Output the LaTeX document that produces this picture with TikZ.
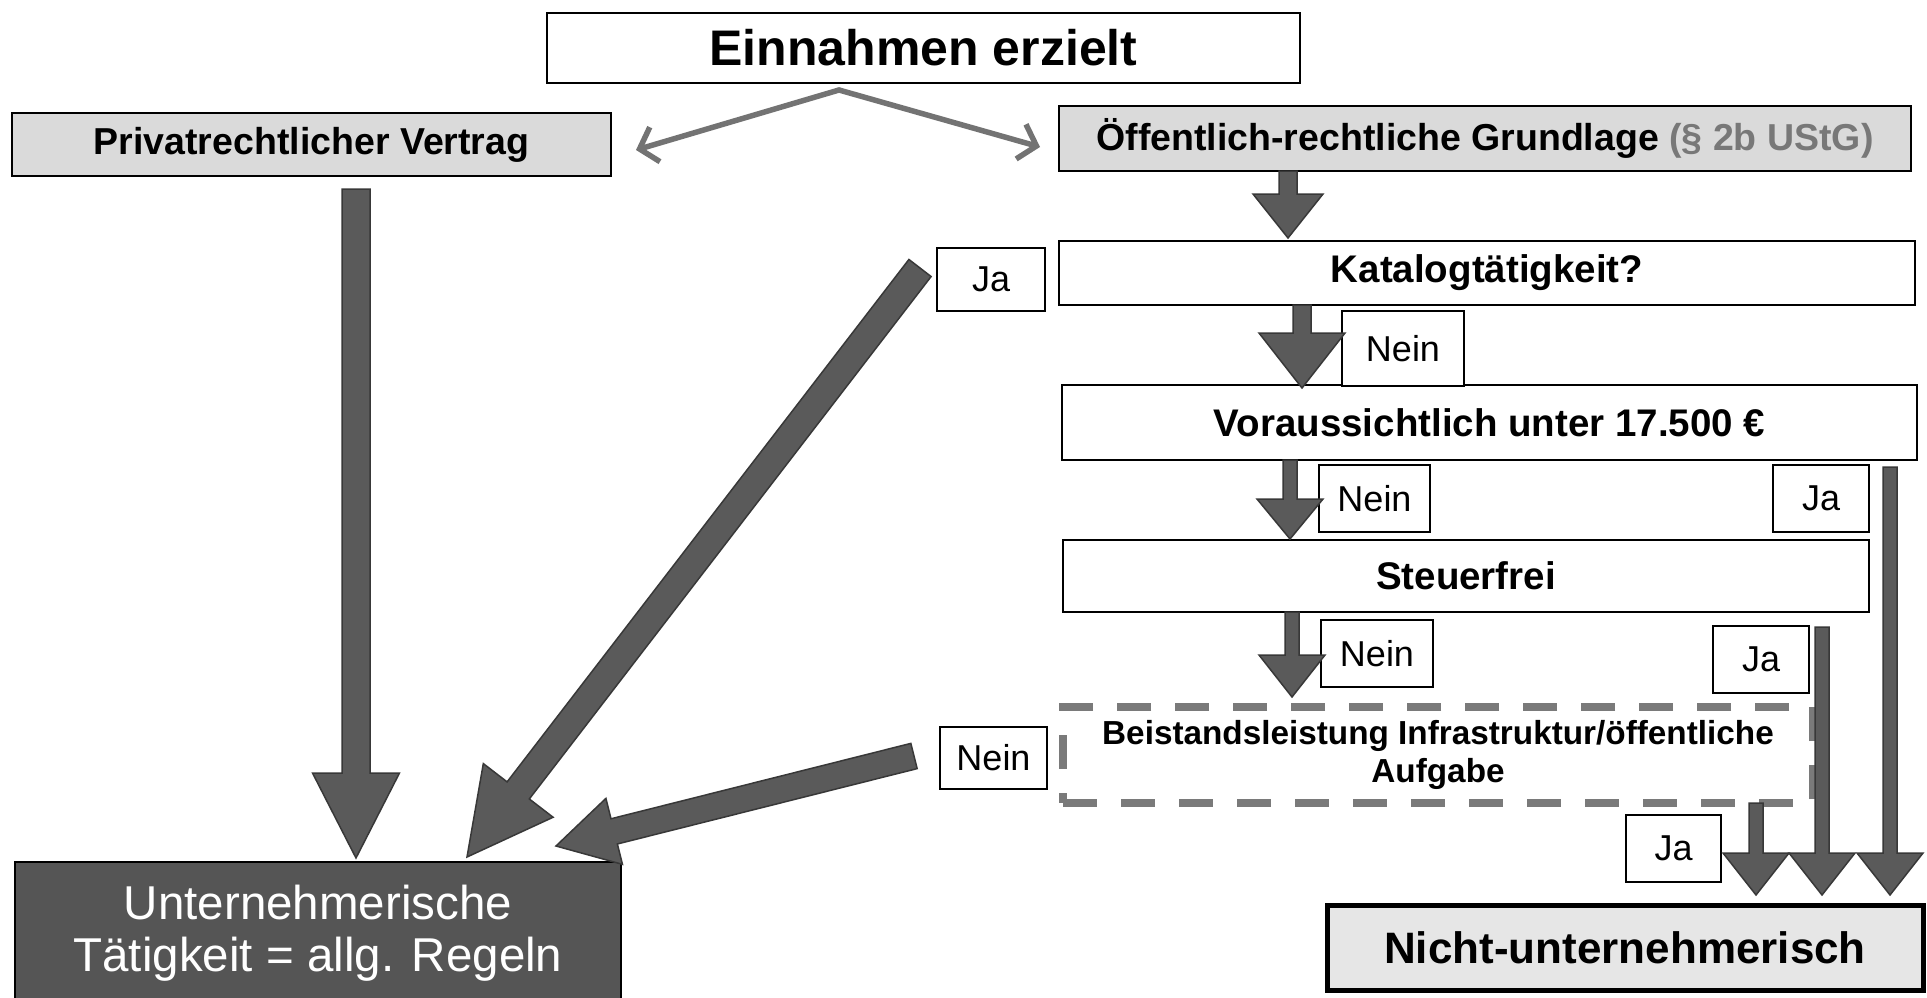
\documentclass[tikz,border=0pt]{standalone}
\usepackage{fontspec}
\setmainfont{Liberation Sans}
\usetikzlibrary{calc,arrows.meta}
\definecolor{arrfill}{HTML}{5A5A5A}
\definecolor{arrdraw}{HTML}{383838}
\definecolor{boxgray}{HTML}{DADADA}
\definecolor{lightgray2}{HTML}{E6E6E6}
\definecolor{darkbox}{HTML}{555555}
\definecolor{thinarr}{HTML}{737373}
\definecolor{dashgray}{HTML}{7A7A7A}
\definecolor{paragray}{HTML}{787878}
\newcommand\FatArrow[5]{%
  \coordinate (fa-base) at ($(#2)!#5!(#1)$);
  \filldraw[fatarrow] ($(#1)!#3!90:(#2)$) -- ($(fa-base)!#3!90:(#2)$) -- ($(fa-base)!#4!90:(#2)$) -- (#2) -- ($(fa-base)!#4!-90:(#2)$) -- ($(fa-base)!#3!-90:(#2)$) -- ($(#1)!#3!-90:(#2)$) -- cycle;
}
\begin{document}
\begin{tikzpicture}[x=1pt,y=-1pt,
  box/.style={draw=black, line width=2.5pt, fill=white, inner sep=0pt, align=center,
    font=\fontsize{38.5}{44}\selectfont\bfseries},
  graybox/.style={box, fill=boxgray},
  lab/.style={draw=black, line width=1.5pt, fill=white, inner sep=0pt,
    font=\fontsize{36}{40}\selectfont},
  fatarrow/.style={fill=arrfill, draw=arrdraw, line width=1.5pt, line join=miter},
  thinarrow/.style={draw=thinarr, line width=5.5pt, line cap=round,
    -{Straight Barb[length=16pt,width=36pt,line width=5.5pt]}}
]
\fill[white] (0,0) rectangle (1927,998);
\useasboundingbox (0,0) rectangle (1927,998);

% main boxes
\node[box, minimum width=753pt, minimum height=70pt, font=\fontsize{50}{56}\selectfont\bfseries]
  (ein) at (923.5,48) {Einnahmen erzielt};
\node[graybox, minimum width=599pt, minimum height=63pt, font=\fontsize{37.5}{44}\selectfont\bfseries]
  (priv) at (311.5,144.5) {Privatrechtlicher Vertrag};
\node[graybox, minimum width=852pt, minimum height=65pt, font=\fontsize{37.5}{44}\selectfont\bfseries]
  (oeff) at (1485,138.5) {Öffentlich-rechtliche Grundlage \textcolor{paragray}{(§ 2b UStG)}};
\node[box, minimum width=856pt, minimum height=64pt] (kat) at (1487,273) {Katalogtätigkeit?};
\node[box, minimum width=855pt, minimum height=75pt] (vor) at (1489.5,422.5) {Voraussichtlich unter 17.500 €};
\node[box, minimum width=806pt, minimum height=72pt] (steu) at (1466,576) {Steuerfrei};
\node[draw=dashgray, line width=8pt, dash pattern=on 34pt off 24pt, fill=white, inner sep=0pt,
  align=center, minimum width=750pt, minimum height=96pt,
  font=\fontsize{33.3}{38}\selectfont\bfseries]
  (beis) at (1438,755) {Beistandsleistung Infrastruktur/öffentliche\\Aufgabe};
\node[draw=black, line width=2.5pt, fill=darkbox, text=white, inner sep=0pt, align=center,
  minimum width=606pt, minimum height=142pt, font=\fontsize{47.5}{52}\selectfont]
  (unt) at (318,933) {Unternehmerische\\Tätigkeit = allg. Regeln};
\node[draw=black, line width=5pt, fill=lightgray2, inner sep=0pt, minimum width=596pt,
  minimum height=85pt, font=\fontsize{44}{50}\selectfont\bfseries]
  (nicht) at (1625,947.5) {Nicht-unternehmerisch};

% labels
\node[lab, minimum width=108pt, minimum height=63pt] (jaKat) at (991,279.5) {Ja};
\node[lab, minimum width=122pt, minimum height=75pt] (neinKat) at (1403,348.5) {Nein};
\node[lab, minimum width=111pt, minimum height=67pt] (neinVor) at (1374.5,498.5) {Nein};
\node[lab, minimum width=96pt, minimum height=67pt] (jaVor) at (1821,498.5) {Ja};
\node[lab, minimum width=112pt, minimum height=67pt] (neinSteu) at (1377,653.5) {Nein};
\node[lab, minimum width=96pt, minimum height=67pt] (jaSteu) at (1761,659.5) {Ja};
\node[lab, minimum width=107pt, minimum height=62pt] (neinBeis) at (993.5,758) {Nein};
\node[lab, minimum width=95pt, minimum height=67pt] (jaBeis) at (1673.5,848.5) {Ja};

% thin arrows from Einnahmen
\coordinate (apex) at (839,90);
\coordinate (privR) at (636,150);
\coordinate (oeffL) at (1040,147);
\draw[thinarrow] (apex) -- (privR);
\draw[thinarrow] (apex) -- (oeffL);

% fat arrow end points
\coordinate (p1) at (356,189);   \coordinate (q1) at (356,858);
\coordinate (p2) at (1288,171);  \coordinate (q2) at (1288,238);
\coordinate (p3) at (1302,305);  \coordinate (q3) at (1302,388);
\coordinate (p4) at (1290,460);  \coordinate (q4) at (1290,539);
\coordinate (p5) at (1292,612);  \coordinate (q5) at (1292,697);
\coordinate (p6) at (920,268);   \coordinate (q6) at (467,857);
\coordinate (p7) at (914,756);   \coordinate (q7) at (556,846);
\coordinate (p8) at (1756,803);  \coordinate (q8) at (1756,895);
\coordinate (p9) at (1822,627);  \coordinate (q9) at (1822,895);
\coordinate (p10) at (1890,467); \coordinate (q10) at (1890,895);

\FatArrow{p1}{q1}{14pt}{43.5pt}{85pt}
\FatArrow{p2}{q2}{9pt}{35pt}{44pt}
\FatArrow{p3}{q3}{9pt}{43pt}{55pt}
\FatArrow{p4}{q4}{7pt}{33pt}{40pt}
\FatArrow{p5}{q5}{7pt}{33pt}{42pt}
\FatArrow{p6}{q6}{14pt}{44pt}{84pt}
\FatArrow{p7}{q7}{13pt}{34pt}{60pt}
\FatArrow{p8}{q8}{7pt}{33pt}{42pt}
\FatArrow{p9}{q9}{7pt}{33pt}{42pt}
\FatArrow{p10}{q10}{7pt}{33pt}{42pt}
\end{tikzpicture}
\end{document}
